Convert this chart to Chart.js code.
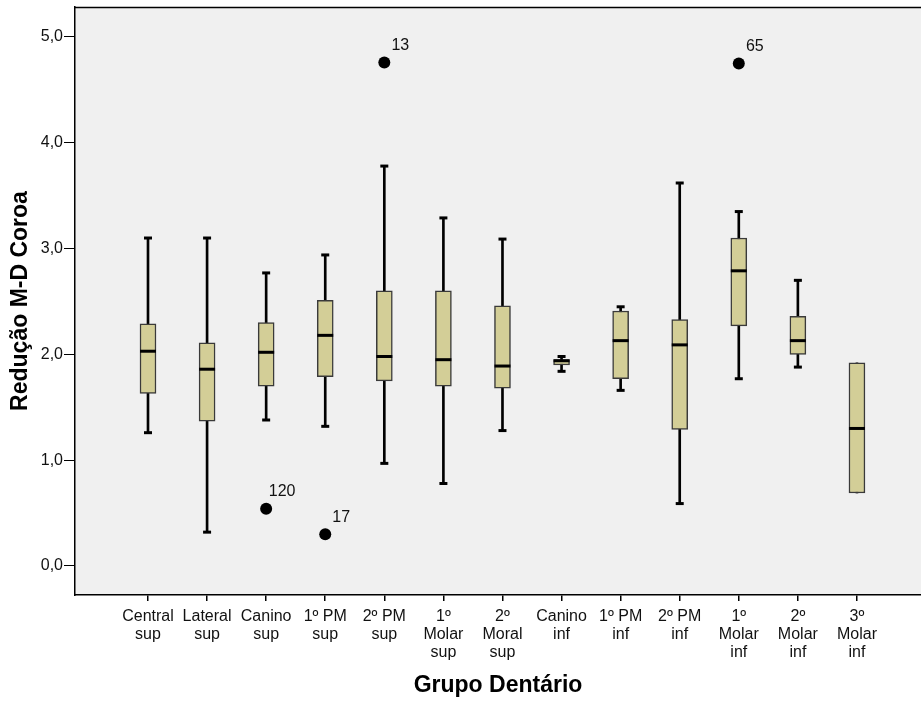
<!DOCTYPE html>
<html>
<head>
<meta charset="utf-8">
<script src="https://cdn.jsdelivr.net/npm/chart.js@4/dist/chart.umd.min.js"></script>
<style>
  html, body { margin: 0; padding: 0; background: #fff; }
  #wrap { width: 921px; height: 702px; }
</style>
</head>
<body>
<div id="wrap"><canvas id="c" width="921" height="702"></canvas></div>
<script>
// ---- Data ----
const tickLabels = [
  ['Central', 'sup'], ['Lateral', 'sup'], ['Canino', 'sup'], ['1º PM', 'sup'], ['2º PM', 'sup'],
  ['1º', 'Molar', 'sup'], ['2º', 'Moral', 'sup'], ['Canino', 'inf'], ['1º PM', 'inf'], ['2º PM', 'inf'],
  ['1º', 'Molar', 'inf'], ['2º', 'Molar', 'inf'], ['3º', 'Molar', 'inf']
];
const whiskerLow  = [1.26, 0.32, 1.38, 1.32, 0.97, 0.78, 1.28, 1.84, 1.66, 0.59, 1.77, 1.88, 0.69];
const q1          = [1.63, 1.37, 1.70, 1.79, 1.75, 1.70, 1.68, 1.90, 1.77, 1.29, 2.27, 2.00, 0.69];
const median      = [2.03, 1.86, 2.02, 2.18, 1.98, 1.95, 1.89, 1.94, 2.13, 2.09, 2.79, 2.13, 1.30];
const q3          = [2.29, 2.11, 2.30, 2.51, 2.60, 2.60, 2.46, 1.95, 2.41, 2.33, 3.10, 2.36, 1.92];
const whiskerHigh = [3.10, 3.10, 2.77, 2.94, 3.78, 3.29, 3.09, 1.98, 2.45, 3.62, 3.35, 2.70, 1.92];
const outlierGroup = [3, 4, 5, 11];
const outlierValue = [0.54, 0.30, 4.76, 4.75];
const outlierLabel = ['120', '17', '13', '65'];
const yTicks = [0, 1, 2, 3, 4, 5];
const yTitle = 'Redução M-D Coroa';
const xTitle = 'Grupo Dentário';

// ---- Build datasets ----
const idx = tickLabels.map((_, i) => i + 1);
const boxData = idx.map((x, i) => ({ x, y: [q1[i], q3[i]] }));
const whiskerData = idx.map((x, i) => ({ x, y: [whiskerLow[i], whiskerHigh[i]] }));
const medianData = idx.map((x, i) => ({ x, y: median[i] }));
const capData = [];
idx.forEach((x, i) => {
  if (whiskerHigh[i] > q3[i]) capData.push({ x, y: whiskerHigh[i] });
  if (whiskerLow[i] < q1[i]) capData.push({ x, y: whiskerLow[i] });
});
const outlierData = outlierGroup.map((g, j) => ({ x: g, y: outlierValue[j] }));

const FONT = "'Liberation Sans', Arial, sans-serif";

const framePlugin = {
  id: 'frame',
  beforeDraw(chart) {
    const { ctx, chartArea: a } = chart;
    ctx.save();
    ctx.fillStyle = '#ffffff';
    ctx.fillRect(0, 0, chart.width, chart.height);
    ctx.fillStyle = '#f0f0f0';
    ctx.fillRect(a.left, a.top, a.right - a.left, a.bottom - a.top);
    ctx.strokeStyle = '#000';
    ctx.lineWidth = 1.5;
    ctx.beginPath();
    ctx.moveTo(a.left, a.top + 0.5);
    ctx.lineTo(a.right, a.top + 0.5);
    ctx.stroke();
    ctx.restore();
  }
};

const labelPlugin = {
  id: 'outlierLabels',
  afterDatasetsDraw(chart) {
    const meta = chart.getDatasetMeta(0);
    const ctx = chart.ctx;
    ctx.save();
    ctx.fillStyle = '#111';
    ctx.font = '16px ' + FONT;
    ctx.textAlign = 'center';
    ctx.textBaseline = 'middle';
    meta.data.forEach((pt, j) => {
      ctx.fillText(outlierLabel[j], pt.x + 16, pt.y - 17);
    });
    ctx.restore();
  }
};

new Chart(document.getElementById('c'), {
  type: 'bar',
  data: {
    datasets: [
      {
        type: 'scatter', data: outlierData,
        pointStyle: 'circle', pointRadius: 6, pointHoverRadius: 6,
        backgroundColor: '#000', borderColor: '#000', borderWidth: 0
      },
      {
        type: 'scatter', data: medianData,
        pointStyle: 'line', pointRadius: 8, pointHoverRadius: 8,
        borderColor: '#000', borderWidth: 3
      },
      {
        type: 'bar', data: boxData, grouped: false, barThickness: 16,
        backgroundColor: '#d3ce97', borderColor: '#3a3a3a', borderWidth: 1.5,
        borderSkipped: false
      },
      {
        type: 'scatter', data: capData,
        pointStyle: 'line', pointRadius: 4, pointHoverRadius: 4,
        borderColor: '#000', borderWidth: 3
      },
      {
        type: 'bar', data: whiskerData, grouped: false, barThickness: 2,
        backgroundColor: '#000', borderWidth: 0
      }
    ]
  },
  options: {
    responsive: false,
    animation: false,
    events: [],
    layout: { autoPadding: false, padding: { top: 7, right: 0, left: 0, bottom: 0 } },
    plugins: { legend: { display: false }, tooltip: { enabled: false } },
    scales: {
      x: {
        type: 'linear', offset: false,
        min: -0.2356, max: 14.084,
        afterBuildTicks: s => { s.ticks = idx.map(v => ({ value: v })); },
        afterFit: s => { s.height = 107; s.paddingLeft = 0; s.paddingRight = 0; },
        grid: { offset: false, drawOnChartArea: false, drawTicks: true, tickLength: 6, color: '#000', lineWidth: 1.5 },
        border: { display: true, color: '#000', width: 1.5 },
        ticks: {
          autoSkip: false, maxRotation: 0, minRotation: 0, padding: 7,
          color: '#111',
          font: { family: FONT, size: 16, lineHeight: 1.125 },
          callback: v => tickLabels[v - 1] || ''
        },
        title: {
          display: true, text: xTitle, color: '#000',
          font: { family: FONT, size: 23, weight: 'bold', lineHeight: 1.2 },
          padding: { top: 0, bottom: 3 }
        }
      },
      y: {
        min: -0.2741, max: 5.2835,
        afterBuildTicks: s => { s.ticks = yTicks.map(v => ({ value: v })); },
        afterFit: s => { s.width = 75; s.paddingTop = 0; s.paddingBottom = 0; },
        grid: { drawOnChartArea: false, drawTicks: true, tickLength: 11, color: '#000', lineWidth: 1 },
        border: { display: true, color: '#000', width: 1.5 },
        ticks: {
          padding: 1, color: '#111',
          font: { family: FONT, size: 16 },
          callback: v => v.toFixed(1).replace('.', ',')
        },
        title: {
          display: true, text: yTitle, color: '#000',
          font: { family: FONT, size: 23, weight: 'bold', lineHeight: 1.2 },
          padding: { top: 7, bottom: 0 }
        }
      }
    }
  },
  plugins: [framePlugin, labelPlugin]
});
</script>
</body>
</html>
